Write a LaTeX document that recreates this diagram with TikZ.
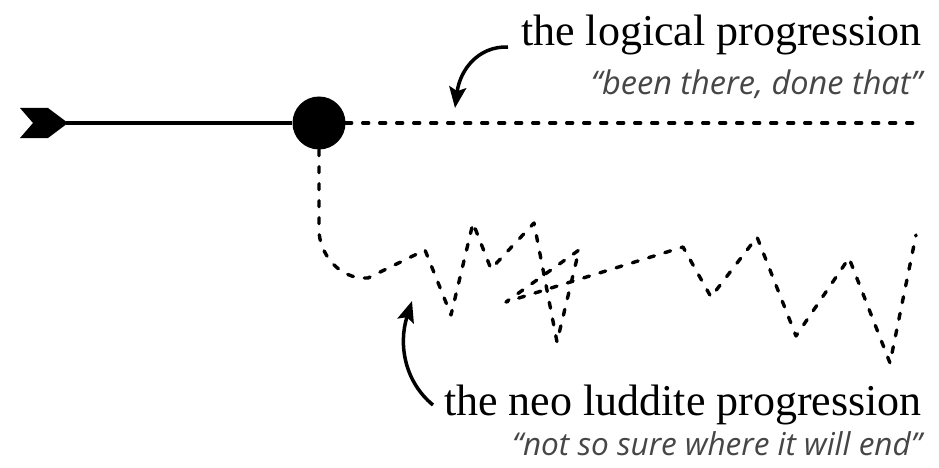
\documentclass[tikz,border=0pt]{standalone}
\usepackage{fontspec}
\setmainfont{Liberation Serif}
\newfontfamily\subfont{Open Sans}
\usetikzlibrary{arrows.meta}
\definecolor{subgray}{RGB}{70,70,70}
\tikzset{
  mainline/.style={line width=3.3pt},
  dashline/.style={line width=3.4pt, line cap=round, dash pattern=on 6pt off 11pt},
  pointer/.style={line width=3.5pt, -{Stealth[length=21pt,width=17pt,inset=4pt]}},
  titletext/.style={anchor=base east, inner sep=0pt, font=\fontsize{44}{50}\selectfont},
  subtext/.style={anchor=base east, inner sep=0pt, text=subgray, font=\subfont\itshape\fontsize{32.5}{38}\selectfont},
}
\begin{document}
\begin{tikzpicture}[x=1pt,y=-1pt]
\useasboundingbox (0,0) rectangle (939,468);
% tail of the arrow
\fill (20,108) -- (48,108) -- (68,123) -- (48,138) -- (20,138) -- (33,123) -- cycle;
\coordinate (tail) at (66,123);
\node[circle, fill=black, minimum size=53pt, inner sep=0pt] (dot) at (319,123) {};
\coordinate (logend) at (922,123);
\draw[mainline] (tail) -- (dot.west);
\draw[dashline] (dot.east) -- (logend);
% neo luddite path
\draw[dashline, line join=round] (dot.south) -- (319,230)
  .. controls (319,252) and (338,280) .. (368,278)
  -- (425,250) -- (451,315) -- (473,223) -- (491,269) -- (534,223)
  -- (557,342) -- (579,250) -- (506,302) -- (683,247) -- (711,297)
  -- (757,237) -- (796,336) -- (849,258) -- (890,363) -- (916,235);
% labels
\node[titletext] (t1) at (922,46) {the logical progression};
\node[subtext] (s1) at (922,95) {“been there, done that”};
\node[titletext] (t2) at (922,415) {the neo luddite progression};
\node[subtext, font=\subfont\itshape\fontsize{31.5}{38}\selectfont] (s2) at (922,455) {“not so sure where it will end”};
\coordinate (a1s) at (508,47);
\coordinate (a1e) at (455,108);
\coordinate (a2s) at (433,405);
\coordinate (a2e) at (412,301);
\draw[pointer] (a1s) .. controls (478,46) and (460,70) .. (a1e);
\draw[pointer] (a2s) .. controls (405,382) and (398,345) .. (a2e);
\end{tikzpicture}
\end{document}
